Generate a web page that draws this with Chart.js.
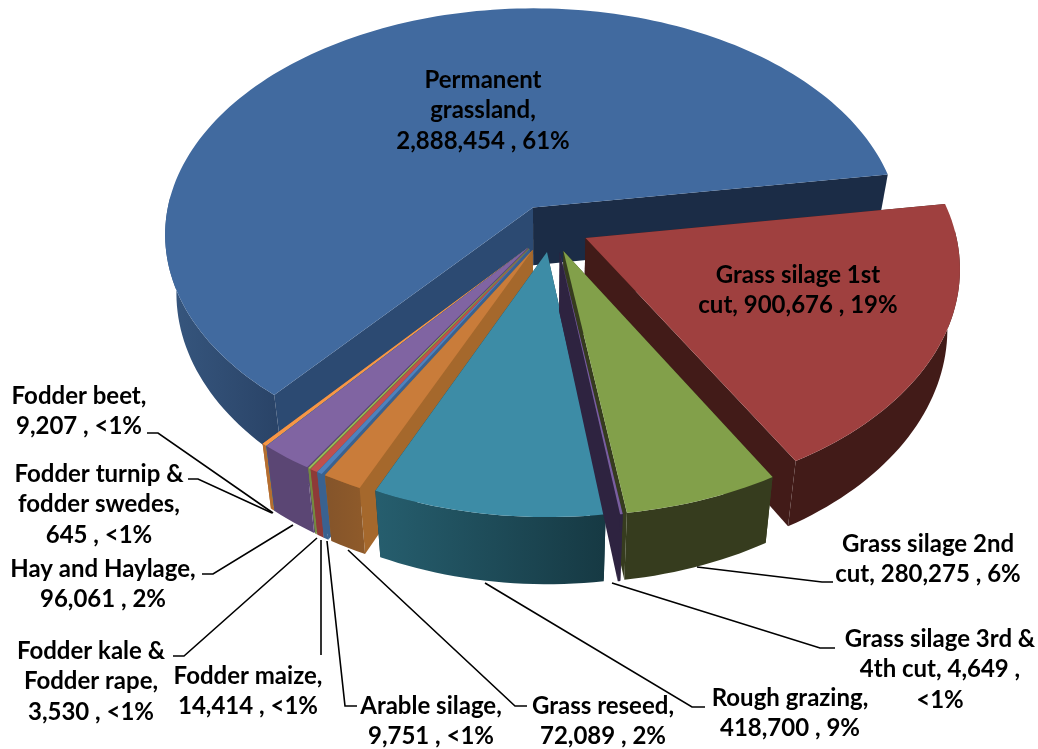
<!DOCTYPE html>
<html>
<head>
<meta charset="utf-8">
<title>Fodder area</title>
<script src="https://cdn.jsdelivr.net/npm/chart.js@4/dist/chart.umd.min.js"></script>
<style>
html, body { margin: 0; padding: 0; background: #fff; }
#wrap { position: relative; width: 1038px; height: 749px; }
</style>
</head>
<body>
<div id="wrap"><canvas id="pieChart"></canvas></div>
<script>
const categories = ['Permanent grassland', 'Grass silage 1st cut', 'Grass silage 2nd cut', 'Grass silage 3rd & 4th cut',
    'Rough grazing', 'Grass reseed', 'Arable silage', 'Fodder maize', 'Fodder kale & Fodder rape',
    'Hay and Haylage', 'Fodder turnip & fodder swedes', 'Fodder beet'];
const areas = [2888454, 900676, 280275, 4649, 418700, 72089, 9751, 14414, 3530, 96061, 645, 9207];
const labelLines = [
    ['Permanent', 'grassland,', '2,888,454 , 61%'],
    ['Grass silage 1st', 'cut, 900,676 , 19%'],
    ['Grass silage 2nd', 'cut, 280,275 , 6%'],
    ['Grass silage 3rd &', '4th cut, 4,649 ,', '<1%'],
    ['Rough grazing,', '418,700 , 9%'],
    ['Grass reseed,', '72,089 , 2%'],
    ['Arable silage,', '9,751 , <1%'],
    ['Fodder maize,', '14,414 , <1%'],
    ['Fodder kale &', 'Fodder rape,', '3,530 , <1%'],
    ['Hay and Haylage,', '96,061 , 2%'],
    ['Fodder turnip &', 'fodder swedes,', '645 , <1%'],
    ['Fodder beet,', '9,207 , <1%']
];

// look of each slice: top colour, wall gradient (left, right), cut faces
const topColors = ['#416A9F', '#9F403F', '#82A04A', '#7A5FA0', '#3D8CA6', '#C97C3A', '#4F81BD', '#C0504D', '#9BBB59', '#8064A2', '#4BACC6', '#F79646'];
const wallColors = [['#37577F', '#2A4468'], ['#421B18', '#421B18'], ['#363C1E', '#363C1E'], ['#2E2340', '#2E2340'],
    ['#265E6E', '#163943'], ['#84542A', '#8E5A2A'], ['#3A6290', '#3A6290'], ['#8E3A38', '#8E3A38'], ['#74893F', '#74893F'],
    ['#5B4674', '#5B4674'], ['#357E92', '#357E92'], ['#B56E30', '#B56E30']];
const faceColors = ['#2C4A72', '#421B18', '#363C1E', '#2E2340', '#163943', '#A5682C', '#3A6290', '#8E3A38', '#74893F', '#5B4674', '#357E92', '#B56E30'];
const endFaceColors = ['#1B2C46', '#421B18', '#363C1E', '#2E2340', '#163943', '#A5682C', '#3A6290', '#8E3A38', '#74893F', '#5B4674', '#357E92', '#B56E30'];
// explosion of each slice in the pie plane, as a fraction of the radius
const shiftU = [-0.022, 0.12, 0.06, 0.05, 0.016, -0.022, -0.03, -0.03, -0.032, -0.035, -0.035, -0.035];
const shiftV = [-0.165, -0.03, 0.026, 0.03, 0.03, 0.02, 0.016, 0.016, 0.014, 0.012, 0.012, 0.012];
const paintOrder = [0, 11, 10, 9, 8, 7, 6, 5, 1, 4, 2, 3];

// label centre x and first line centre y, then leader line points
const labelPos = [[483, 80], [798, 275], [928, 544], [940, 639], [790, 698], [603, 706], [431, 706], [248, 676], [91, 651], [103, 569], [99, 474], [79, 396]];
const leaders = [null, null,
    [[833, 582], [822, 582], [697, 567]],
    [[835, 648], [820, 648], [612, 583]],
    [[705, 707], [692, 707], [485, 583]],
    [[527, 706], [515, 706], [348, 550]],
    [[357, 706], [345, 706], [327, 541]],
    [[321, 655], [321, 540]],
    [[173, 656], [184, 656], [317, 538]],
    [[202, 574], [213, 574], [293, 525]],
    [[188, 479], [198, 479], [272, 513]],
    [[147, 433], [158, 433], [273, 513]]
];

const persp = { a: 1.52, b: 0.945, k: 0.12, depth: 0.24, shrink: 0.03 };

function makeProject(arc, i) {
    const R = arc.outerRadius;
    return function (u, v, h) {
        const nu = u + shiftU[i], nv = v + shiftV[i];
        const w = 1 - persp.k * nv;
        const px = R * persp.a * nu / w * (1 - persp.shrink * h);
        const py = R * (persp.b * nv + persp.depth * h) / w;
        return [arc.x + px, arc.y + py];
    };
}

function fillPoly(ctx, pts, fill) {
    ctx.beginPath();
    pts.forEach((p, n) => n ? ctx.lineTo(p[0], p[1]) : ctx.moveTo(p[0], p[1]));
    ctx.closePath();
    ctx.fillStyle = fill;
    ctx.fill();
}

const pie3d = {
    id: 'pie3d',
    beforeDatasetsDraw(chart) {
        const ctx = chart.ctx;
        const arcs = chart.getDatasetMeta(0).data;
        paintOrder.forEach(i => {
            const arc = arcs[i].getProps(['x', 'y', 'startAngle', 'endAngle', 'outerRadius'], true);
            const project = makeProject(arc, i);
            const steps = Math.max(2, Math.ceil((arc.endAngle - arc.startAngle) * 40));
            const rim = [], wallTop = [], wallLow = [];
            for (let s = 0; s <= steps; s++) {
                const a = arc.startAngle + (arc.endAngle - arc.startAngle) * s / steps;
                const top = project(Math.cos(a), Math.sin(a), 0);
                rim.push(top);
                // only the front of the rim shows a wall
                if (Math.sin(a) > -0.05) {
                    wallTop.push(top);
                    wallLow.push(project(Math.cos(a), Math.sin(a), 1));
                }
            }
            const apex = project(0, 0, 0), apexLow = project(0, 0, 1);
            const startLow = project(Math.cos(arc.startAngle), Math.sin(arc.startAngle), 1);
            const endLow = project(Math.cos(arc.endAngle), Math.sin(arc.endAngle), 1);
            fillPoly(ctx, [apex, rim[0], startLow, apexLow], faceColors[i]);
            fillPoly(ctx, [apex, rim[steps], endLow, apexLow], endFaceColors[i]);
            if (wallTop.length > 1) {
                const xs = wallTop.map(p => p[0]);
                const grad = ctx.createLinearGradient(Math.min(...xs), 0, Math.max(...xs) + 1, 0);
                grad.addColorStop(0, wallColors[i][0]);
                grad.addColorStop(1, wallColors[i][1]);
                fillPoly(ctx, wallTop.concat(wallLow.reverse()), grad);
            }
            fillPoly(ctx, [apex].concat(rim), topColors[i]);
        });
        return false;
    },
    // afterDatasetsDraw does not fire once the datasets are cancelled above
    afterDraw(chart) {
        const ctx = chart.ctx;
        ctx.save();
        ctx.strokeStyle = '#000';
        ctx.lineWidth = 1.6;
        leaders.forEach(line => {
            if (!line) return;
            ctx.beginPath();
            line.forEach((p, n) => n ? ctx.lineTo(p[0], p[1]) : ctx.moveTo(p[0], p[1]));
            ctx.stroke();
        });
        ctx.fillStyle = '#000';
        ctx.font = 'bold 24px Lato';
        ctx.textAlign = 'center';
        ctx.textBaseline = 'middle';
        labelLines.forEach((lines, i) => {
            lines.forEach((text, n) => ctx.fillText(text, labelPos[i][0], labelPos[i][1] + n * 30.6));
        });
        ctx.restore();
    }
};

new Chart(document.getElementById('pieChart'), {
    type: 'pie',
    data: {
        labels: categories,
        datasets: [{ data: areas, backgroundColor: topColors, borderWidth: 0 }]
    },
    options: {
        responsive: true,
        maintainAspectRatio: false,
        animation: false,
        rotation: -140,
        layout: { padding: { left: 44, bottom: 259 } },
        plugins: { legend: { display: false }, tooltip: { enabled: false } }
    },
    plugins: [pie3d]
});
</script>
</body>
</html>
